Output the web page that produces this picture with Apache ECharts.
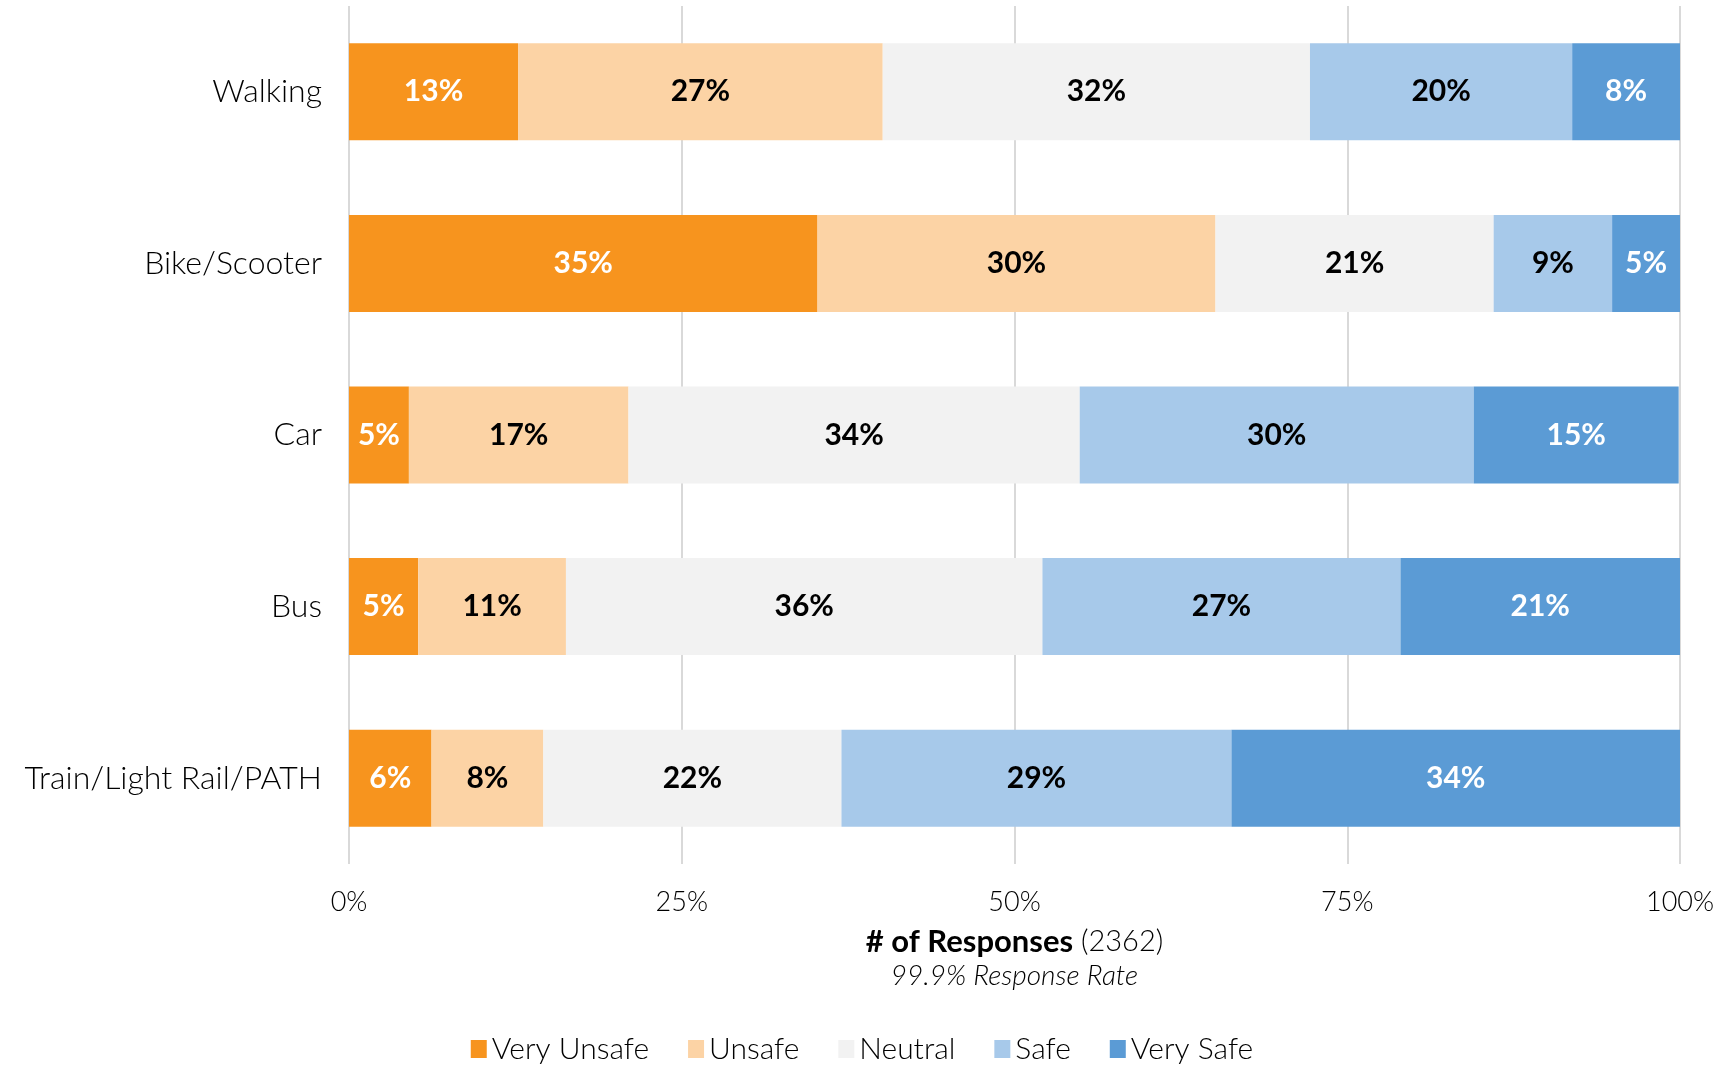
<!DOCTYPE html>
<html>
<head>
<meta charset="utf-8">
<script src="https://cdn.jsdelivr.net/npm/echarts@6/dist/echarts.min.js"></script>
<style>
  html, body { margin: 0; padding: 0; background: #fff; }
  #chart { width: 1724px; height: 1065px; }
</style>
</head>
<body>
<div id="chart"></div>
<script>
const modes = ['Walking', 'Bike/Scooter', 'Car', 'Bus', 'Train/Light Rail/PATH'];
const levels = ['Very Unsafe', 'Unsafe', 'Neutral', 'Safe', 'Very Safe'];
const colors = ['#f7941e', '#fcd3a5', '#f2f2f2', '#a7c9ea', '#5b9bd5'];
const labelColors = ['#ffffff', '#000000', '#000000', '#000000', '#ffffff'];

// share of responses per mode (%), one array per safety level
const veryUnsafe = [12.7, 35.2, 4.5, 5.2, 6.2];
const unsafe = [27.4, 29.9, 16.5, 11.1, 8.4];
const neutral = [32.1, 20.9, 33.9, 35.8, 22.4];
const safe = [19.7, 8.9, 29.6, 26.9, 29.3];
const verySafe = [8.1, 5.1, 15.4, 21.1, 33.7];
const xTicks = [0, 25, 50, 75, 100];

const seriesValues = [veryUnsafe, unsafe, neutral, safe, verySafe];

const chart = echarts.init(document.getElementById('chart'));

const option = {
  animation: false,
  textStyle: { fontFamily: 'Lato' },
  grid: { left: 349, right: 44, top: 6, height: 858 },
  legend: {
    left: 'center',
    top: 1029,
    icon: 'rect',
    itemWidth: 16,
    itemHeight: 18,
    itemGap: 39,
    textStyle: { fontSize: 30, color: '#000', fontWeight: 300, fontFamily: 'Lato' },
    data: levels
  },
  xAxis: {
    type: 'value',
    min: 0,
    max: 100,
    interval: 25,
    axisLine: { show: false },
    axisTick: { show: false },
    splitLine: { show: true, lineStyle: { color: '#d9d9d9', width: 2 } },
    axisLabel: {
      margin: 25,
      fontSize: 27,
      color: '#000',
      fontWeight: 300,
      formatter: v => xTicks.includes(v) ? v + '%' : ''
    },
    name: '{b|# of Responses}{n| (2362)}\n{i|99.9% Response Rate}',
    nameLocation: 'middle',
    nameGap: 60,
    nameTextStyle: {
      rich: {
        b: { fontSize: 31, fontWeight: 'bold', color: '#000', lineHeight: 36, fontFamily: 'Lato' },
        n: { fontSize: 29, fontWeight: 300, color: '#000', lineHeight: 36, fontFamily: 'Lato' },
        i: { fontSize: 28, fontStyle: 'italic', fontWeight: 300, color: '#000', lineHeight: 32, fontFamily: 'Lato' }
      }
    }
  },
  yAxis: {
    type: 'category',
    inverse: true,
    data: modes,
    axisLine: { show: false },
    axisTick: { show: false },
    axisLabel: { margin: 27, fontSize: 32, color: '#000', fontWeight: 300 }
  },
  series: levels.map((name, i) => ({
    name: name,
    type: 'bar',
    stack: 'total',
    barWidth: 97,
    itemStyle: { color: colors[i] },
    label: {
      show: true,
      position: 'inside',
      color: labelColors[i],
      fontSize: 30,
      fontWeight: 'bold',
      fontFamily: 'Lato',
      formatter: p => Math.round(p.value) + '%'
    },
    data: seriesValues[i]
  }))
};

chart.setOption(option);
</script>
</body>
</html>
